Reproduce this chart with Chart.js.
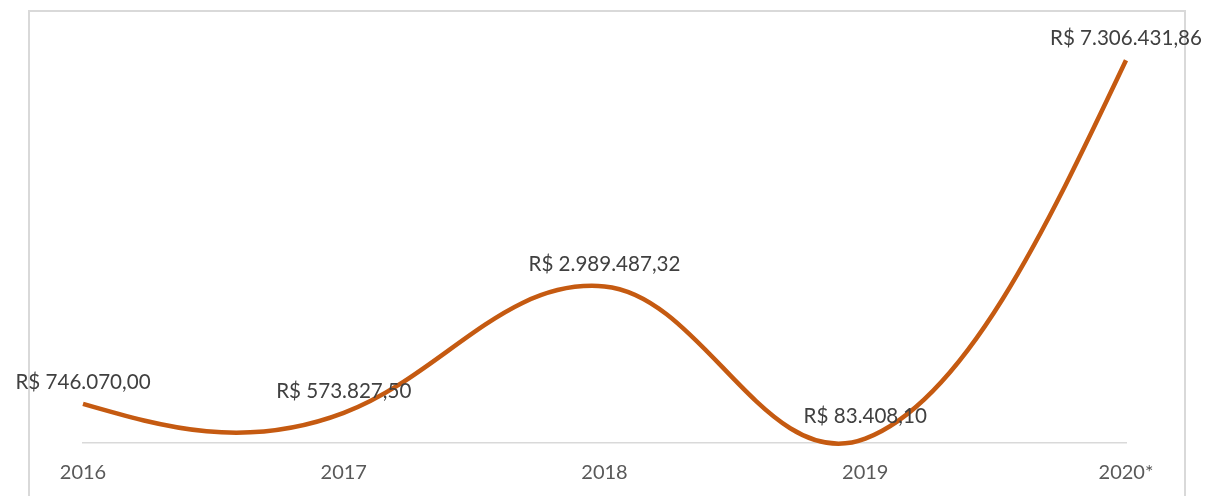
<!DOCTYPE html>
<html>
<head>
<meta charset="utf-8">
<script src="https://cdn.jsdelivr.net/npm/chart.js@4/dist/chart.umd.min.js"></script>
<style>
  html, body { margin: 0; padding: 0; background: #fff; }
  #wrap { width: 1209px; height: 496px; position: relative; }
</style>
</head>
<body>
<div id="wrap"><canvas id="chart"></canvas></div>
<script>
// data
const years = ['2016', '2017', '2018', '2019', '2020*'];
const amounts = [746070.00, 573827.50, 2989487.32, 83408.10, 7306431.86];
const yMax = 8000000;

const lineColor = '#C55A11';
const fontFamily = 'Lato, "Liberation Sans", sans-serif';

// R$ 1.234.567,89
function brl(v) {
    const [int, dec] = v.toFixed(2).split('.');
    return 'R$ ' + int.replace(/\B(?=(\d{3})+(?!\d))/g, '.') + ',' + dec;
}

// light frame around the whole chart, like the Excel chart border
const framePlugin = {
    id: 'frame',
    beforeDraw(chart) {
        const ctx = chart.ctx;
        ctx.save();
        ctx.strokeStyle = '#d9d9d9';
        ctx.lineWidth = 2;
        ctx.strokeRect(29, 11, 1156, 500);
        ctx.restore();
    }
};

// Excel-style smoothing: Chart.js computes its bezier points first,
// then the control points are re-aimed a bit steeper (slope capped).
const excelSmooth = {
    id: 'excelSmooth',
    beforeDatasetsDraw(chart) {
        const meta = chart.getDatasetMeta(0);
        meta.dataset.updateControlPoints(chart.chartArea, 'x');
        const pts = meta.data;
        const n = pts.length;
        const f = 0.19, steep = 1.9, maxSlope = 0.38;
        for (let i = 1; i < n - 1; i++) {
            const p = pts[i];
            const dx = pts[i + 1].x - pts[i - 1].x;
            let slope = steep * (pts[i + 1].y - pts[i - 1].y) / dx;
            slope = Math.max(-maxSlope, Math.min(maxSlope, slope));
            p.cp1x = p.x - f * dx; p.cp1y = p.y - f * dx * slope;
            p.cp2x = p.x + f * dx; p.cp2y = p.y + f * dx * slope;
        }
        const a = pts[0], b = pts[1];
        a.cp2x = (a.x + b.cp1x) / 2; a.cp2y = (a.y + b.cp1y) / 2;
        const z = pts[n - 1], y = pts[n - 2];
        z.cp1x = (z.x + y.cp2x) / 2; z.cp1y = (z.y + y.cp2y) / 2;
    }
};

// value labels above each point
const valueLabels = {
    id: 'valueLabels',
    afterDatasetsDraw(chart) {
        const ctx = chart.ctx;
        const meta = chart.getDatasetMeta(0);
        ctx.save();
        ctx.font = '20.6px ' + fontFamily;
        ctx.fillStyle = '#404040';
        ctx.textAlign = 'center';
        ctx.textBaseline = 'middle';
        meta.data.forEach((pt, i) => {
            ctx.fillText(brl(amounts[i]), pt.x, pt.y - 22);
        });
        ctx.restore();
    }
};

new Chart(document.getElementById('chart'), {
    type: 'line',
    data: {
        labels: years,
        datasets: [{
            data: amounts,
            borderColor: lineColor,
            borderWidth: 4.5,
            tension: 0.4,
            pointRadius: 0,
            fill: false,
            clip: false
        }]
    },
    options: {
        responsive: true,
        maintainAspectRatio: false,
        animation: false,
        layout: { padding: { left: 83, right: 83, top: 24, bottom: 0 } },
        plugins: {
            legend: { display: false },
            tooltip: { enabled: false }
        },
        scales: {
            x: {
                grid: { display: false, drawTicks: false },
                border: { display: true, color: '#d9d9d9', width: 1.5 },
                ticks: {
                    color: '#595959',
                    font: { family: fontFamily, size: 20 },
                    padding: 18,
                    maxRotation: 0
                },
                afterFit(scale) { scale.height = 53; }
            },
            y: {
                display: false,
                min: 0,
                max: yMax
            }
        }
    },
    plugins: [framePlugin, excelSmooth, valueLabels]
});
</script>
</body>
</html>
